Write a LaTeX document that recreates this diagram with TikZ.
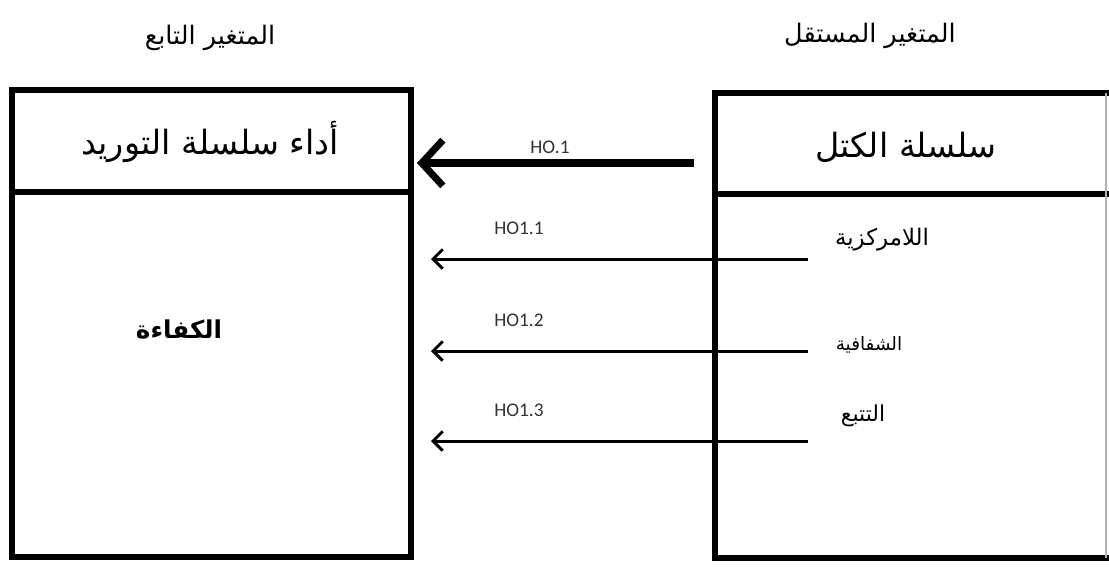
\documentclass[tikz,border=0pt]{standalone}
\usepackage{fontspec}
\newfontfamily\arabicfont[Script=Arabic]{DejaVu Sans}
\newfontfamily\latinfont{Carlito}
\TeXXeTstate=1
\usetikzlibrary{arrows.meta}

\tikzset{
    boxline/.style={line width=3.6pt},
    edgeline/.style={line width=0.8pt,black!30},
    mainlink/.style={line width=4pt,-{Straight Barb[length=12pt,width=26pt,line width=4pt]}},
    sublink/.style={line width=1.7pt,-{Straight Barb[length=5.5pt,width=11pt,line width=1.7pt]}},
    hyp/.style={font=\latinfont\fontsize{11}{12}\selectfont,text=black!80},
    header/.style={font=\arabicfont\fontsize{14.5}{16}\selectfont},
    boxtitle/.style={font=\arabicfont\fontsize{19}{21}\selectfont},
    item/.style={font=\arabicfont\fontsize{#1}{#1}\selectfont},
    item/.default=12
}

\begin{document}
\begin{tikzpicture}[x=0.02cm,y=-0.02cm]
    \fill[white] (0,0) rectangle (1109,566);
    \useasboundingbox (0,0) rectangle (1109,566);

    % dependent variable box
    \draw[boxline] (12,90) rectangle (411,557);
    \draw[boxline] (12,192) -- (411,192);
    % independent variable box
    \draw[boxline] (1109,93) -- (715,93) -- (715,558) -- (1109,558);
    \draw[boxline] (715,194) -- (1109,194);
    \draw[edgeline] (1106,93) -- (1106,558);

    \path (210, 38) node [header] (dvhead) {\beginR المتغير التابع\endR};
    \path (870, 36) node [header] (ivhead) {\beginR المتغير المستقل\endR};
    \path (210,142) node [boxtitle] (dvtitle) {\beginR أداء سلسلة التوريد\endR};
    \path (906,147) node [boxtitle] (ivtitle) {\beginR سلسلة الكتل\endR};
    \path (179,330) node [item=14] (eff) {\bfseries\beginR الكفاءة\endR};
    \path (882,240) node [item=13] (decent) {\beginR اللامركزية\endR};
    \path (869,345) node [item=10.5] (transp) {\beginR الشفافية\endR};
    \path (863,416) node [item=12.5] (trace) {\beginR التتبع\endR};

    \path (550,147) node [hyp] (h0) {HO.1};
    \path (519,228) node [hyp] (h1) {HO1.1};
    \path (519,320) node [hyp] (h2) {HO1.2};
    \path (519,410) node [hyp] (h3) {HO1.3};

    \coordinate (h0start) at (694,163);
    \coordinate (h0end) at (417,163);
    \coordinate (h1start) at (808,259);
    \coordinate (h1end) at (431,259);
    \coordinate (h2start) at (808,351);
    \coordinate (h2end) at (431,351);
    \coordinate (h3start) at (808,441);
    \coordinate (h3end) at (431,441);

    \draw[mainlink] (h0start) -- (h0end);
    \draw[sublink] (h1start) -- (h1end);
    \draw[sublink] (h2start) -- (h2end);
    \draw[sublink] (h3start) -- (h3end);
\end{tikzpicture}
\end{document}
